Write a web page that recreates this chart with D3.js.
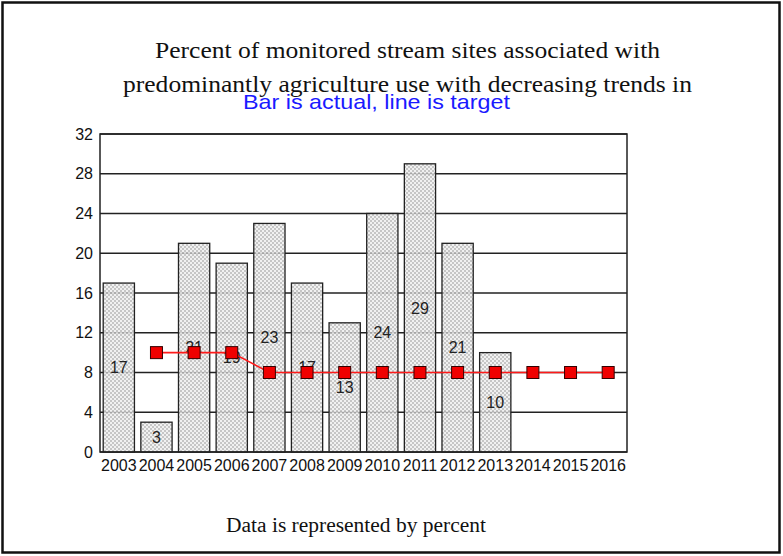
<!DOCTYPE html>
<html>
<head>
<meta charset="utf-8">
<script src="https://cdn.jsdelivr.net/npm/d3@7"></script>
<style>
  body { margin: 0; background: #fff; }
  .vis { width: 783px; height: 556px; }
</style>
</head>
<body>
<div class="vis"></div>
<script>
(function() {
  'use strict';

  var years = ['2003', '2004', '2005', '2006', '2007', '2008', '2009', '2010',
    '2011', '2012', '2013', '2014', '2015', '2016'];
  var actual = [17, 3, 21, 19, 23, 17, 13, 24, 29, 21, 10, null, null, null];
  var target = [null, 10, 10, 10, 8, 8, 8, 8, 8, 8, 8, 8, 8, 8];
  var yTicks = [0, 4, 8, 12, 16, 20, 24, 28, 32];

  var el = d3.select('.vis'),
    elWidth = 783,
    elHeight = 556,
    margin = {top: 134, right: 156, bottom: 104, left: 100},
    width = elWidth - margin.left - margin.right,
    height = elHeight - margin.top - margin.bottom;

  var serif = '"Liberation Serif", "Times New Roman", serif',
    sans = '"Liberation Sans", Arial, sans-serif';

  var root = el.append('svg')
    .attr('width', elWidth)
    .attr('height', elHeight);

  // hatch fill for bars
  var pat = root.append('defs').append('pattern')
    .attr('id', 'hatch')
    .attr('patternUnits', 'userSpaceOnUse')
    .attr('width', 4)
    .attr('height', 4);
  pat.append('rect').attr('width', 4).attr('height', 4).attr('fill', '#efefef');
  pat.append('rect').attr('width', 2).attr('height', 2).attr('fill', '#bcbcbc');
  pat.append('rect').attr('x', 2).attr('y', 2).attr('width', 2).attr('height', 2).attr('fill', '#bcbcbc');

  root.append('rect')
    .attr('x', 2.5).attr('y', 2.5)
    .attr('width', elWidth - 6).attr('height', elHeight - 6)
    .attr('fill', '#fff')
    .attr('stroke', '#111')
    .attr('stroke-width', 2.5);

  function label(txt, cx, by, font, size, len, color) {
    root.append('text')
      .attr('x', cx - len / 2).attr('y', by)
      .attr('textLength', len)
      .attr('lengthAdjust', 'spacingAndGlyphs')
      .style('font-family', font)
      .style('font-size', size + 'px')
      .attr('fill', color)
      .text(txt);
  }

  label('Percent of monitored stream sites associated with', 407.5, 58, serif, 24, 505, '#111');
  label('predominantly agriculture use with decreasing trends in', 407.5, 92, serif, 24, 569, '#111');
  label('Bar is actual, line is target', 376.5, 109, sans, 21, 267, '#1a1aff');
  label('Data is represented by percent', 356, 532, serif, 20, 260, '#111');

  var svg = root.append('g')
    .attr('transform', 'translate(' + margin.left + ',' + margin.top + ')');

  var x = d3.scaleBand()
    .domain(years)
    .range([0, width])
    .paddingInner(0.17)
    .paddingOuter(0.085);

  var xc = function(d) { return x(d) + x.bandwidth() / 2; };

  var y = d3.scaleLinear()
    .domain([0, 32])
    .range([height, 0]);

  // gridlines
  svg.append('g')
    .selectAll('line')
    .data(yTicks)
    .enter().append('line')
      .attr('x1', 0).attr('x2', width)
      .attr('y1', function(d) { return y(d); })
      .attr('y2', function(d) { return y(d); })
      .attr('stroke', '#222')
      .attr('stroke-width', 1.3);

  var barData = years.map(function(d, i) { return {year: d, v: actual[i]}; })
    .filter(function(d) { return d.v !== null; });

  svg.selectAll('.bar')
    .data(barData)
    .enter().append('rect')
      .attr('class', 'bar')
      .attr('x', function(d) { return x(d.year); })
      .attr('y', function(d) { return y(d.v); })
      .attr('width', x.bandwidth())
      .attr('height', function(d) { return height - y(d.v); })
      .attr('fill', 'url(#hatch)')
      .attr('fill-opacity', 0.85)
      .attr('stroke', '#222')
      .attr('stroke-width', 1.3);

  svg.selectAll('.val')
    .data(barData)
    .enter().append('text')
      .attr('class', 'val')
      .attr('x', function(d) { return xc(d.year); })
      .attr('y', function(d) { return y(d.v / 2); })
      .attr('dy', '0.35em')
      .attr('text-anchor', 'middle')
      .style('font-family', sans)
      .style('font-size', '16px')
      .attr('fill', '#222')
      .text(function(d) { return d.v; });

  // plot frame
  svg.append('rect')
    .attr('width', width).attr('height', height)
    .attr('fill', 'none')
    .attr('stroke', '#222')
    .attr('stroke-width', 1.5);

  var tData = years.map(function(d, i) { return {year: d, v: target[i]}; })
    .filter(function(d) { return d.v !== null; });

  var line = d3.line()
    .x(function(d) { return xc(d.year); })
    .y(function(d) { return y(d.v); });

  svg.append('path')
    .datum(tData)
    .attr('d', line)
    .attr('fill', 'none')
    .attr('stroke', '#ff1a1a')
    .attr('stroke-width', 1.6);

  svg.selectAll('.pt')
    .data(tData)
    .enter().append('rect')
      .attr('class', 'pt')
      .attr('x', function(d) { return xc(d.year) - 6; })
      .attr('y', function(d) { return y(d.v) - 6; })
      .attr('width', 12).attr('height', 12)
      .attr('fill', '#f00000')
      .attr('stroke', '#330000')
      .attr('stroke-width', 1);

  var yAxis = svg.append('g')
    .call(d3.axisLeft(y).tickValues(yTicks).tickSize(0).tickPadding(7));
  yAxis.select('.domain').remove();
  yAxis.selectAll('text')
    .style('font-family', sans)
    .style('font-size', '16px')
    .attr('fill', '#111');

  var xAxis = svg.append('g')
    .attr('transform', 'translate(0,' + height + ')')
    .call(d3.axisBottom(x).tickSize(0).tickPadding(8));
  xAxis.select('.domain').remove();
  xAxis.selectAll('text')
    .style('font-family', sans)
    .style('font-size', '16px')
    .attr('fill', '#111');

}());
</script>
</body>
</html>
